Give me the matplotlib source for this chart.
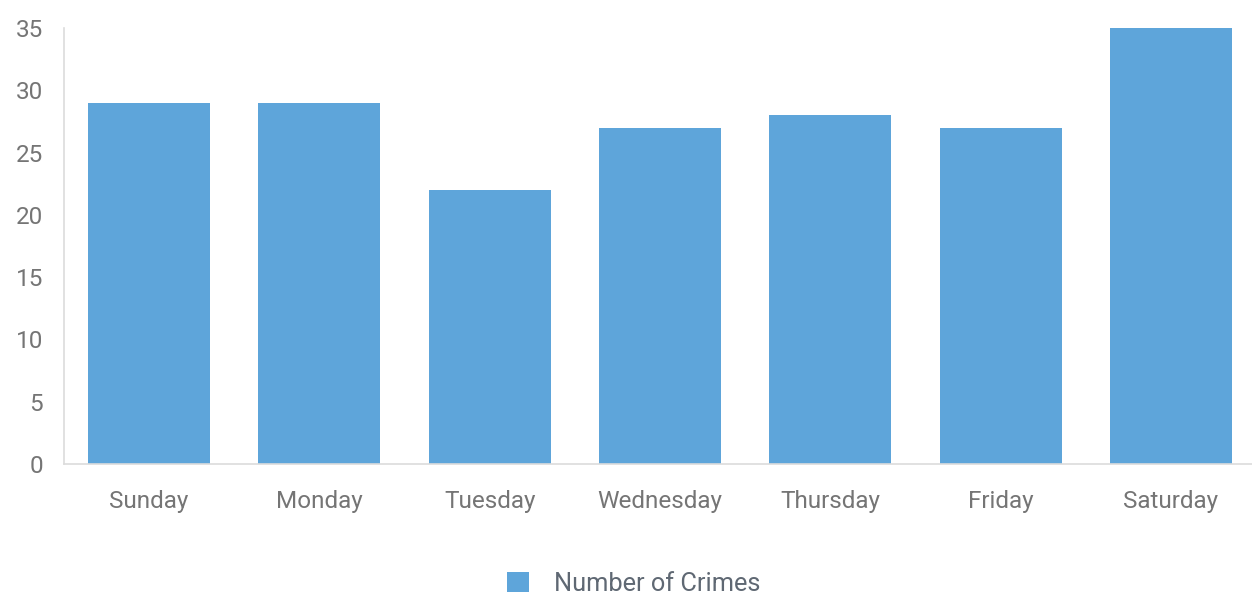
import matplotlib.pyplot as plt

plt.rcParams['font.family'] = ['Roboto', 'DejaVu Sans']

days = ["Sunday", "Monday", "Tuesday", "Wednesday", "Thursday", "Friday", "Saturday"]
crimes = [29, 29, 22, 27, 28, 27, 35]
yticks = [0, 5, 10, 15, 20, 25, 30, 35]

bar_color = "#5ea5da"

fig = plt.figure(figsize=(12.52, 6.03), dpi=100)
ax = fig.add_axes([64 / 1252, 1 - 464 / 603, 1192 / 1252, (464 - 28) / 603])

ax.bar(days, crimes, width=0.716, color=bar_color, label="Number of Crimes")
ax.set_xlim(-0.5, len(days) - 0.5)
ax.set_ylim(0, 35)
ax.set_yticks(yticks)

for side in ["top", "right"]:
    ax.spines[side].set_visible(False)
for side in ["left", "bottom"]:
    ax.spines[side].set_color("#dcdcdc")
    ax.spines[side].set_linewidth(1.2)

ax.tick_params(axis="both", length=0, labelsize=17.5, colors="#757575")
ax.tick_params(axis="x", pad=19)
ax.tick_params(axis="y", pad=15)

leg = fig.legend(loc="center", bbox_to_anchor=(634 / 1252, 1 - 584 / 603), frameon=False,
                 fontsize=18.3, handlelength=0.85, handleheight=0.85, handletextpad=1.0)
for t in leg.get_texts():
    t.set_color("#5f6873")

fig.savefig("out.png", dpi=100)
